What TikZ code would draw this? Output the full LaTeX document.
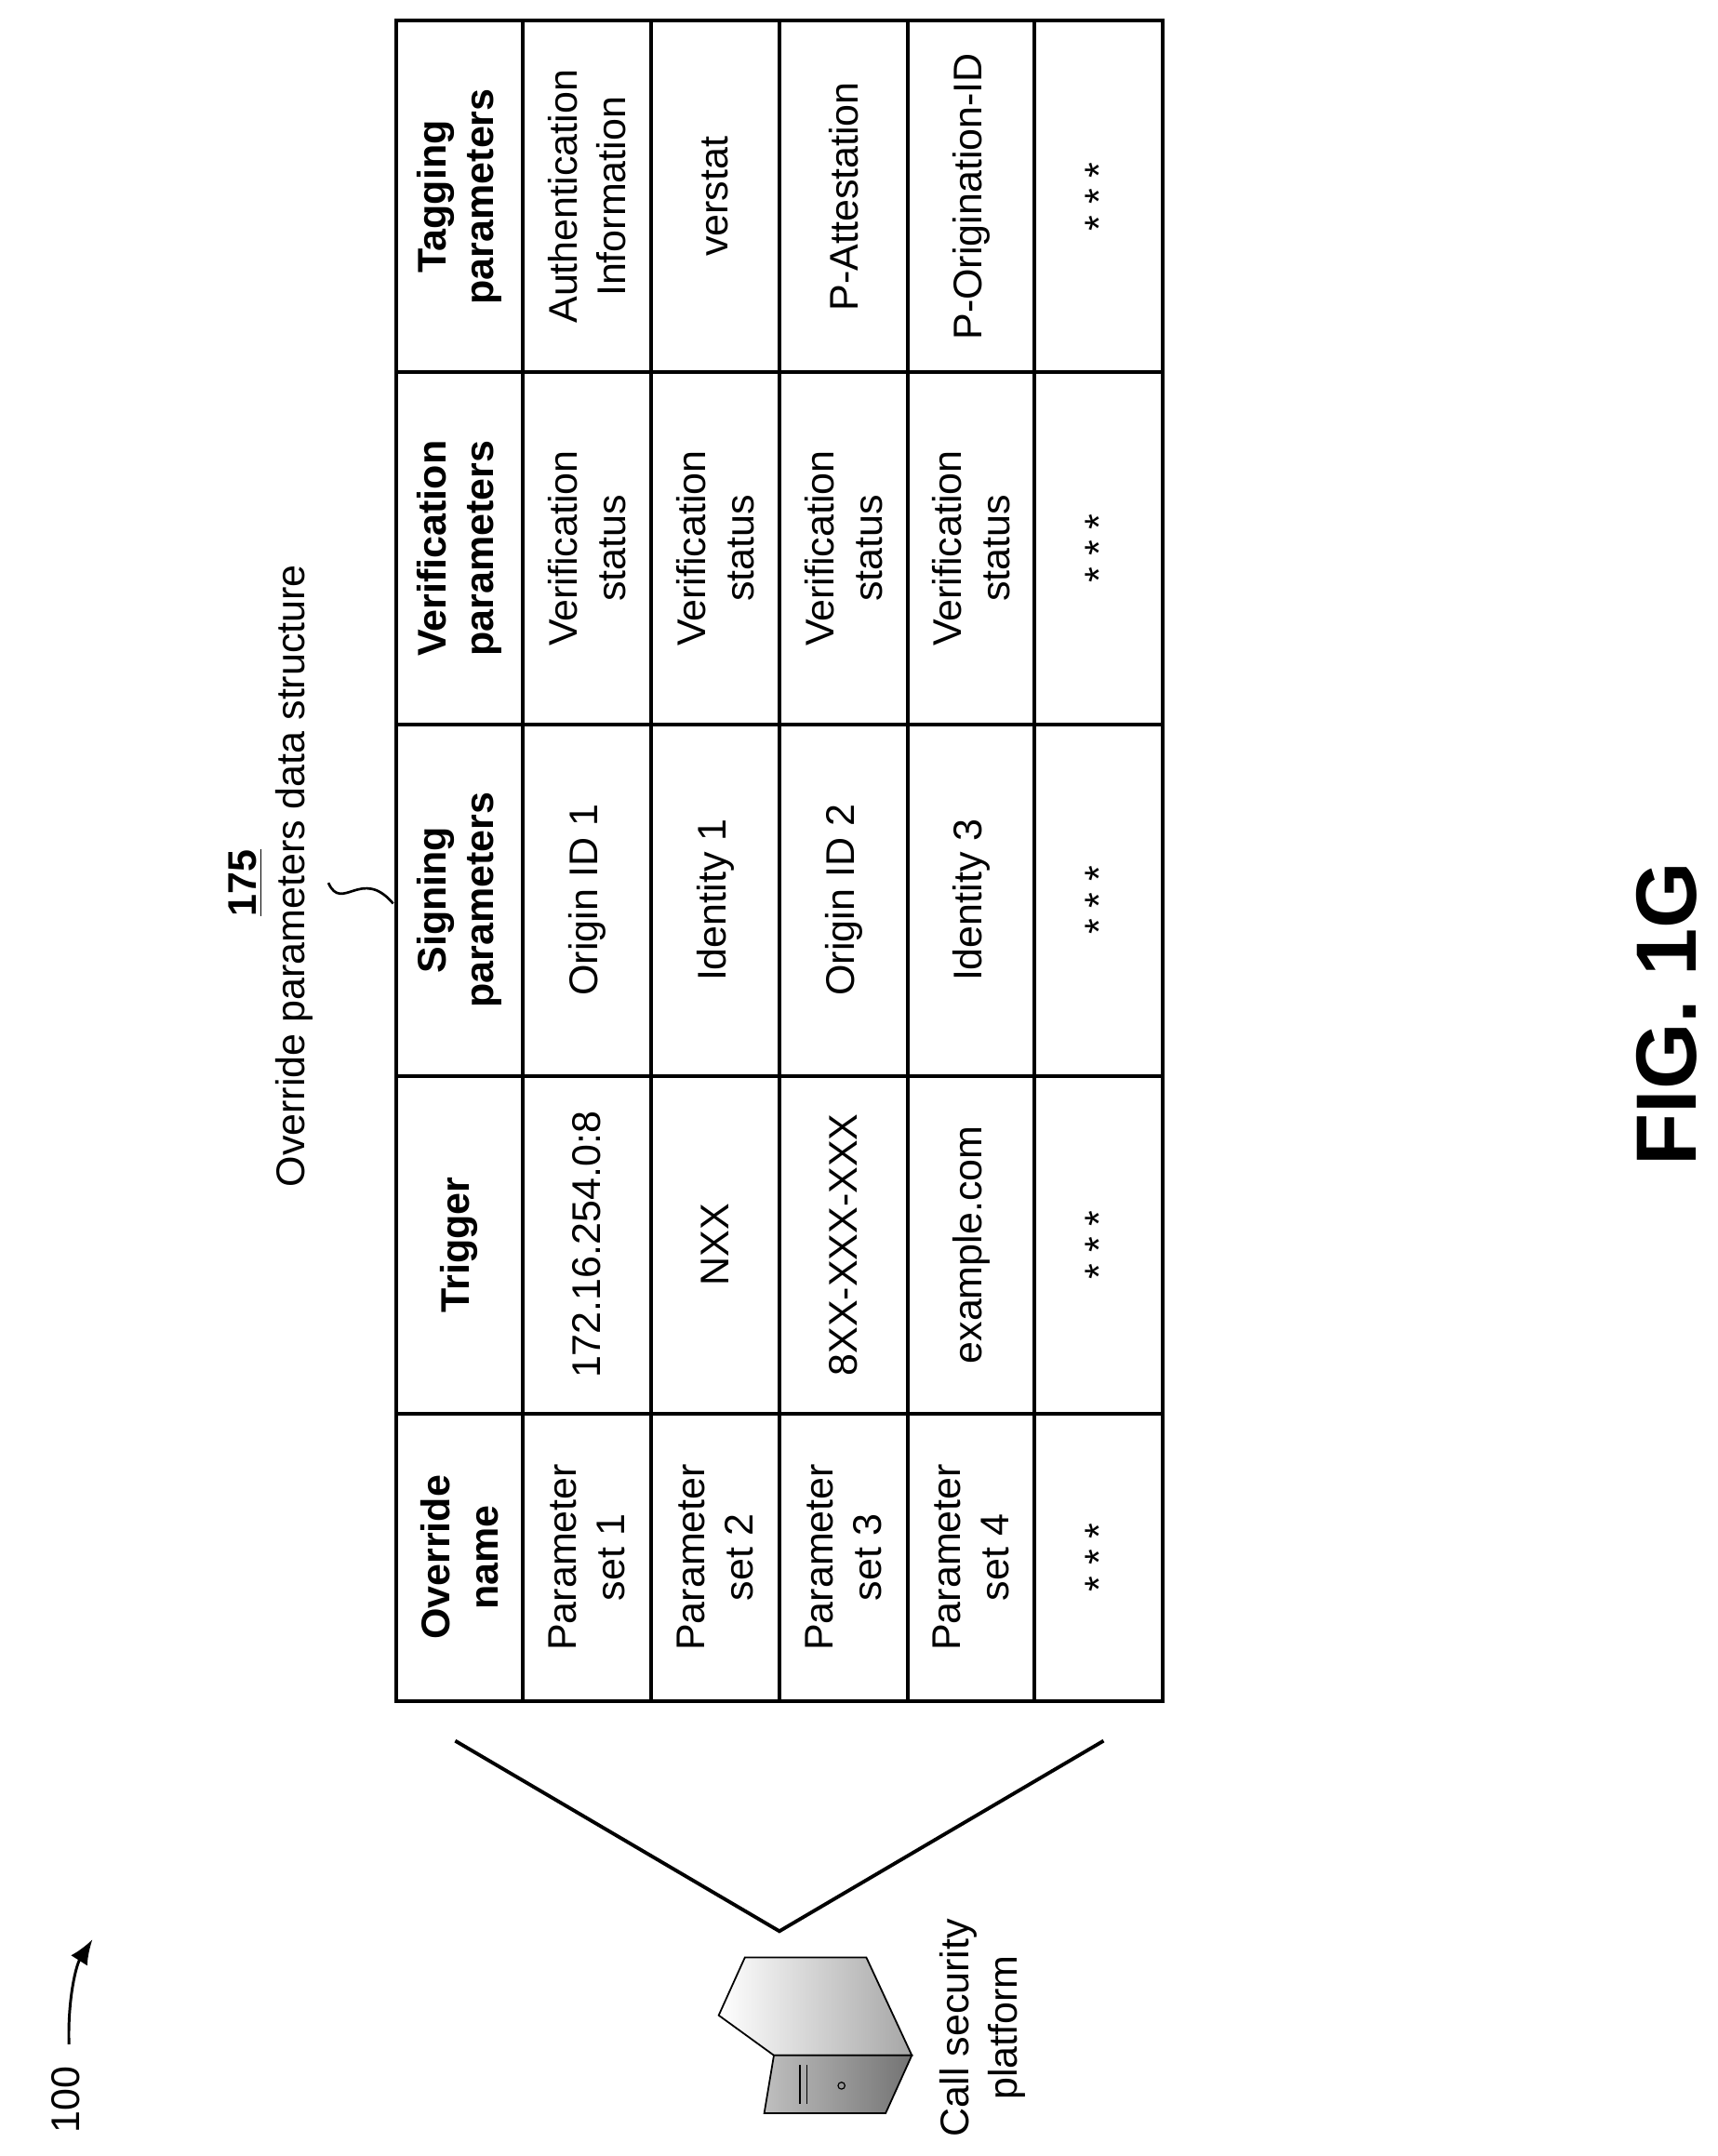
\documentclass[tikz,border=0pt]{standalone}
\usepackage{fontspec}
\setmainfont{Liberation Sans}
\usetikzlibrary{arrows.meta}
\begin{document}
\begin{tikzpicture}[x=0.5pt,y=-0.5pt,
  cell/.style={rotate=90,align=center,font=\fontsize{14.5}{17.5}\selectfont},
  hcell/.style={cell,font=\fontsize{14.5}{17.5}\selectfont\bfseries},
  lbl/.style={rotate=90,align=center,font=\fontsize{14.5}{17.5}\selectfont}]
\useasboundingbox (0,0) rectangle (1245,1563);
% table
\draw[line width=1.3pt] (287,15) rectangle (843,1233);
\foreach \x in {379,472,565,658,750} \draw[line width=1.3pt] (\x,15) -- (\x,1233);
\foreach \y in {270,525,780,1025} \draw[line width=1.3pt] (287,\y) -- (843,\y);
% headers
\node[hcell] (h1) at (333,1129) {Override\\name};
\node[hcell] (h2) at (333,902.5) {Trigger};
\node[hcell] (h3) at (333,652.5) {Signing\\parameters};
\node[hcell] (h4) at (333,397.5) {Verification\\parameters};
\node[hcell] (h5) at (333,142.5) {Tagging\\parameters};
% row 1
\node[cell] (a1) at (425.5,1129) {Parameter\\set 1};
\node[cell] (a2) at (425.5,902.5) {172.16.254.0:8};
\node[cell] (a3) at (425.5,652.5) {Origin ID 1};
\node[cell] (a4) at (425.5,397.5) {Verification\\status};
\node[cell] (a5) at (425.5,142.5) {Authentication\\Information};
% row 2
\node[cell] (b1) at (518.5,1129) {Parameter\\set 2};
\node[cell] (b2) at (518.5,902.5) {NXX};
\node[cell] (b3) at (518.5,652.5) {Identity 1};
\node[cell] (b4) at (518.5,397.5) {Verification\\status};
\node[cell] (b5) at (518.5,142.5) {verstat};
% row 3
\node[cell] (c1) at (611.5,1129) {Parameter\\set 3};
\node[cell] (c2) at (611.5,902.5) {8XX-XXX-XXX};
\node[cell] (c3) at (611.5,652.5) {Origin ID 2};
\node[cell] (c4) at (611.5,397.5) {Verification\\status};
\node[cell] (c5) at (611.5,142.5) {P-Attestation};
% row 4
\node[cell] (d1) at (704,1129) {Parameter\\set 4};
\node[cell] (d2) at (704,902.5) {example.com};
\node[cell] (d3) at (704,652.5) {Identity 3};
\node[cell] (d4) at (704,397.5) {Verification\\status};
\node[cell] (d5) at (704,142.5) {P-Origination-ID};
% row 5
\foreach \y/\n in {1129/e1,902.5/e2,652.5/e3,397.5/e4,142.5/e5}
  \node[cell] (\n) at (796.5,\y) {* * *};
% title
\node[lbl,font=\fontsize{14.5}{17.5}\selectfont\bfseries] (num) at (178,640) {\underline{175}};
\node[lbl] (title) at (213,635) {Override parameters data structure};
\coordinate (sq1) at (238,640);
\coordinate (sq2) at (285,655);
\draw[line width=0.9pt] (sq1) .. controls (248,662) and (262,628) .. (sq2);
% V lines
\coordinate (vl) at (330,1262);
\coordinate (apex) at (565,1400);
\coordinate (vr) at (800,1262);
\draw[line width=1.3pt] (vl) -- (apex) -- (vr);
% server
\shade[left color=white,right color=gray!70,draw=black,line width=0.6pt]
  (540,1419) -- (628,1419) -- (661,1490) -- (561,1490) -- (521,1461) -- cycle;
\shade[left color=gray!50,right color=gray!90!black,draw=black,line width=0.6pt]
  (561,1490) -- (661,1490) -- (642,1532) -- (554,1532) -- cycle;
\draw[line width=0.5pt] (580,1497) -- (580,1525);
\draw[line width=0.5pt] (585,1497) -- (585,1525);
\draw[line width=0.4pt] (610,1512) circle (2.5);
\node[lbl] (srv) at (712,1470) {Call security\\platform};
% 100
\node[lbl] (ref) at (48,1522) {100};
\coordinate (ar1) at (50,1482);
\coordinate (ar2) at (67,1406);
\draw[line width=1pt,-{Latex[length=9pt,width=7pt]}] (ar1) .. controls (49,1450) and (55,1425) .. (ar2);
% fig
\node[rotate=90,font=\fontsize{31}{36}\selectfont\bfseries] (fig) at (1208,735) {FIG. 1G};
\end{tikzpicture}
\end{document}
